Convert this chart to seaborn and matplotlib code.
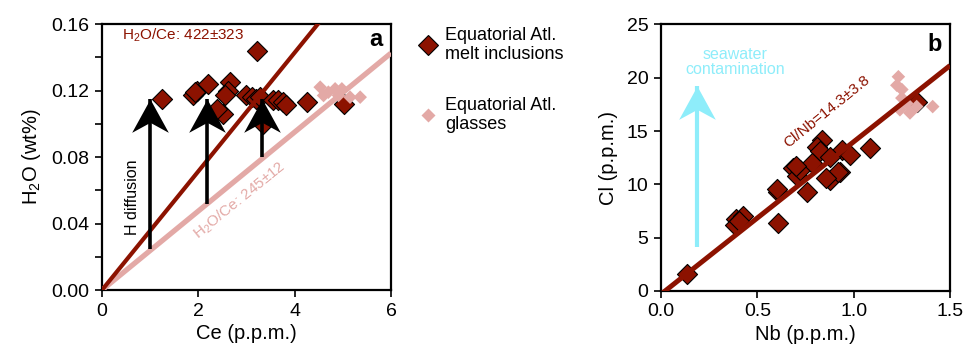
import matplotlib
matplotlib.use("Agg")
import matplotlib.pyplot as plt
from matplotlib.lines import Line2D
from matplotlib.path import Path
from matplotlib.ticker import MultipleLocator
import numpy as np
import pandas as pd
import seaborn as sns

# ---------- data ----------
# panel a: Ce (ppm) vs H2O (wt%)
mi_ce = [1.24, 3.22, 1.97, 2.21, 1.89, 1.94, 2.66, 2.62, 2.55, 2.52, 2.38,
         3.00, 3.11, 3.20, 3.28, 3.35, 3.56, 3.66, 3.76, 3.83, 4.25, 5.02]
mi_h2o = [0.115, 0.144, 0.120, 0.124, 0.117, 0.119, 0.125, 0.120, 0.117, 0.106, 0.109,
          0.117, 0.116, 0.115, 0.116, 0.100, 0.114, 0.114, 0.113, 0.111, 0.113, 0.112]
gl_ce = [4.53, 4.60, 4.70, 4.84, 4.91, 4.98, 5.15, 5.36]
gl_h2o = [0.122, 0.117, 0.119, 0.121, 0.117, 0.121, 0.116, 0.116]

# panel b: Nb (ppm) vs Cl (ppm)
mi_nb = [0.133, 0.389, 0.427, 0.384, 0.405, 0.609, 0.609, 0.687, 0.705, 0.722,
         0.756, 0.877, 0.929, 0.834, 0.808, 0.825, 1.085, 0.938, 0.981, 0.918,
         0.858, 0.600, 0.782, 0.877, 1.327, 0.700]
mi_cl = [1.6, 6.8, 7.0, 6.2, 6.6, 6.35, 9.3, 11.5, 10.8, 11.35,
         9.3, 10.4, 11.2, 14.2, 13.5, 13.1, 13.4, 13.2, 12.8, 11.2,
         10.6, 9.6, 12.0, 12.6, 17.75, 11.7]
gl_nb = [1.232, 1.224, 1.25, 1.25, 1.275, 1.24, 1.292, 1.327, 1.41]
gl_cl = [20.1, 19.3, 18.9, 18.1, 17.6, 17.0, 16.7, 17.3, 17.3]

# reference lines (slopes as drawn)
ce_line = [0, 6]
slope_mi_a = 0.0357
slope_gl_a = 0.02375
nb_line = [0, 1.5]
slope_b = 14.3

# H diffusion arrows: x, base, tip
arr_ce = [1.0, 2.17, 3.33]
arr_base = [0.0245, 0.052, 0.080]
arr_tip = [0.118, 0.118, 0.118]

# seawater arrow
sw_nb = 0.185
sw_base = 4.15
sw_tip = 19.2

dark = "#8c1200"
pink = "#e3a9a6"
cyan = "#8eedfa"

sns.set_style("ticks", {"axes.edgecolor": "black", "text.color": "black",
                        "axes.labelcolor": "black", "xtick.color": "black",
                        "ytick.color": "black"})
plt.rcParams["font.family"] = ["Liberation Sans", "DejaVu Sans"]
plt.rcParams["mathtext.default"] = "regular"

# concave arrowhead marker, tip at the marker origin
head = Path([(0, 0), (-0.55, -1), (0, -0.7), (0.55, -1), (0, 0)],
            [Path.MOVETO, Path.LINETO, Path.LINETO, Path.LINETO, Path.CLOSEPOLY])


def up_arrow(ax, x, base, tip, color, lw, size):
    ax.plot([x, x], [base, tip], color=color, lw=lw, solid_capstyle="butt", zorder=6)
    ax.plot([x], [tip], marker=head, markersize=size, color=color,
            markeredgewidth=0, zorder=7)


fig = plt.figure(figsize=(9.64, 3.52), dpi=100)
ax1 = fig.add_axes([0.1058, 0.1761, 0.2998, 0.7557])
ax2 = fig.add_axes([0.6857, 0.1733, 0.2998, 0.7571])

df_mi_a = pd.DataFrame({"Ce": mi_ce, "H2O": mi_h2o})
df_gl_a = pd.DataFrame({"Ce": gl_ce, "H2O": gl_h2o})
df_mi_b = pd.DataFrame({"Nb": mi_nb, "Cl": mi_cl})
df_gl_b = pd.DataFrame({"Nb": gl_nb, "Cl": gl_cl})

# ---------- panel a ----------
sns.scatterplot(data=df_mi_a, x="Ce", y="H2O", marker="D", s=105, color=dark,
                edgecolor="black", linewidth=0.8, ax=ax1, zorder=3)
sns.scatterplot(data=df_gl_a, x="Ce", y="H2O", marker="D", s=48, color=pink,
                edgecolor="none", ax=ax1, zorder=4)
ce_arr = np.array(ce_line)
ax1.plot(ce_arr, slope_gl_a * ce_arr, color=pink, lw=3.8, zorder=5,
         solid_capstyle="butt")
ax1.plot(ce_arr, slope_mi_a * ce_arr, color=dark, lw=3.0, zorder=5,
         solid_capstyle="butt")
for x, b, t in zip(arr_ce, arr_base, arr_tip):
    up_arrow(ax1, x, b, t - 0.003, "black", 2.6, 48)
ax1.text(0.64, 0.056, "H diffusion", rotation=90, ha="center", va="center",
         fontsize=11.5)
ax1.text(0.42, 0.153, "H$_2$O/Ce: 422±323", color=dark, fontsize=11,
         ha="left", va="center")
ax1.text(2.86, 0.054, "H$_2$O/Ce: 245±12", color=pink, fontsize=11,
         rotation=39, ha="center", va="center")
ax1.text(0.97, 0.94, "a", transform=ax1.transAxes, fontsize=17,
         fontweight="bold", ha="right", va="center")
ax1.set_xlim(0, 6)
ax1.set_ylim(0, 0.16)
ax1.set_xticks([0, 2, 4, 6])
ax1.set_yticks([0, 0.04, 0.08, 0.12, 0.16])
ax1.yaxis.set_minor_locator(MultipleLocator(0.02))
ax1.set_yticklabels(["0.00", "0.04", "0.08", "0.12", "0.16"])
ax1.set_xlabel("Ce (p.p.m.)", fontsize=14.5, labelpad=3)
ax1.set_ylabel("H$_2$O (wt%)", fontsize=14.5, labelpad=6)

# ---------- panel b ----------
sns.scatterplot(data=df_mi_b, x="Nb", y="Cl", marker="D", s=105, color=dark,
                edgecolor="black", linewidth=0.8, ax=ax2, zorder=3)
sns.scatterplot(data=df_gl_b, x="Nb", y="Cl", marker="D", s=48, color=pink,
                edgecolor="none", ax=ax2, zorder=4)
nb_arr = np.array(nb_line)
ax2.plot(nb_arr, slope_b * nb_arr - 0.3, color=dark, lw=3.6, zorder=5,
         solid_capstyle="butt", clip_on=True)
up_arrow(ax2, sw_nb, sw_base, sw_tip, cyan, 3.0, 48)
ax2.text(0.384, 21.5, "seawater\ncontamination", color=cyan, fontsize=11.5,
         ha="center", va="center", linespacing=1.05)
ax2.text(0.86, 16.8, "Cl/Nb=14.3±3.8", color=dark, fontsize=11,
         rotation=39, ha="center", va="center")
ax2.text(0.97, 0.925, "b", transform=ax2.transAxes, fontsize=17,
         fontweight="bold", ha="right", va="center")
ax2.set_xlim(0, 1.5)
ax2.set_ylim(0, 25)
ax2.set_xticks([0, 0.5, 1.0, 1.5])
ax2.set_xticklabels(["0.0", "0.5", "1.0", "1.5"])
ax2.set_yticks([0, 5, 10, 15, 20, 25])
ax2.set_xlabel("Nb (p.p.m.)", fontsize=14.5, labelpad=3)
ax2.set_ylabel("Cl (p.p.m.)", fontsize=14.5, labelpad=6)

for ax in (ax1, ax2):
    ax.tick_params(axis="both", which="both", direction="out", length=5,
                   width=1.2, labelsize=14, pad=4, color="black")
    for sp in ax.spines.values():
        sp.set_visible(True)
        sp.set_linewidth(1.6)
        sp.set_color("black")

# ---------- legend ----------
handles = [
    Line2D([], [], marker="D", ls="none", markersize=10.2, markerfacecolor=dark,
           markeredgecolor="black", markeredgewidth=0.8),
    Line2D([], [], marker="D", ls="none", markersize=6.8, markerfacecolor=pink,
           markeredgecolor="none"),
]
fig.legend(handles, ["Equatorial Atl.\nmelt inclusions", "Equatorial Atl.\nglasses"],
           loc="upper left", bbox_to_anchor=(0.427, 0.945), frameon=False,
           fontsize=13, handlelength=1.0, handletextpad=0.45, labelspacing=1.85,
           borderaxespad=0)

fig.savefig("out.png", dpi=100)
